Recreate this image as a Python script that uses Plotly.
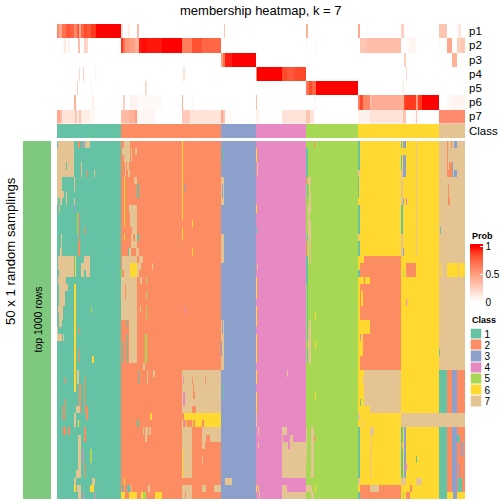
import plotly.graph_objects as go

W = 504
CLASS_COLORS = ["#66C2A5", "#FC8D62", "#8DA0CB", "#E78AC3", "#A6D854", "#FFD92F", "#E5C494"]
LEFT_COLOR = "#7FC97F"
P_LABELS = ["p1", "p2", "p3", "p4", "p5", "p6", "p7"]
CLASS_LABELS = ["1", "2", "3", "4", "5", "6", "7"]
N_COLS = 408
N_ROWS = 50
CLASS_EDGES = [0, 64, 164, 199, 249, 301, 382, 408]

# membership runs: start column, end column, probability
P1 = [(0,2,.6),(2,5,.45),(5,9,.7),(9,14,.8),(14,17,.75),(17,20,.6),(20,22,.8),(22,24,.45),(24,27,.75),(27,30,.85),(30,34,.8),(34,39,.9),(39,64,1),
      (64,66,.15),(71,73,.1),(80,82,.35),(167,168,.3),(249,251,.4),(301,303,.45),(344,347,.25),(382,390,.3),(400,402,.08),(402,404,.15)]
P2 = [(5,6,.05),(7,9,.12),(11,13,.08),(21,23,.35),(27,29,.25),(29,31,.2),
      (64,66,.9),(66,68,.7),(68,72,.55),(72,78,.5),(78,82,.4),(82,85,.96),(85,90,.98),(90,105,.96),(105,125,1),(125,135,.65),(135,145,.82),(145,164,.75),
      (249,250,.05),(258,259,.05),(303,310,.3),(310,344,.34),(350,353,.04),(353,359,.06),(382,383,.03),(390,395,.45),(400,404,.25),(404,408,.3)]
P3 = [(17,18,.04),(164,166,.5),(166,168,.7),(168,175,.95),(175,199,1),(347,349,.25),(395,400,.4),(404,405,.05)]
P4 = [(22,23,.2),(26,27,.25),(38,39,.08),(126,128,.15),(199,200,.6),(200,225,1),(225,230,.85),(230,237,.8),(237,249,.85),(349,350,.2)]
P5 = [(20,21,.25),(34,35,.06),(88,90,.2),(249,252,.7),(252,255,.85),(255,259,.75),(259,301,1),(346,347,.12)]
P6 = [(17,19,.4),(35,37,.1),(66,68,.25),(73,80,.07),(80,105,.03),(125,126,.4),(135,136,.05),(199,200,.35),(258,259,.07),
      (301,303,.65),(303,306,.85),(306,313,.6),(313,314,.3),(314,347,.42),(347,349,.85),(349,359,.9),(359,361,.5),(361,365,.9),(365,382,1),(390,395,.03),(395,408,.06)]
P7 = [(0,3,.45),(3,5,.35),(5,18,.15),(18,20,.3),(20,22,.12),(22,24,.3),(24,33,.1),(33,38,.04),
      (64,72,.35),(72,78,.4),(78,80,.5),(80,98,.05),(125,133,.28),(133,164,.15),(164,166,.45),(166,168,.3),(168,175,.03),
      (199,202,.08),(225,249,.15),(249,253,.3),(253,257,.15),(301,313,.08),(313,346,.15),(346,349,.3),(355,359,.03),(359,360,.3),(360,363,.03),(382,408,.58)]
P_RUNS = [P1, P2, P3, P4, P5, P6, P7]

# sampling patches: first row, last row, start column, end column, class
PATCHES_1 = [(0,0,1,17,7),(1,4,0,17,7),(3,3,9,10,1),(5,6,0,5,7),(5,6,17,18,7),(7,7,0,7,7),(7,8,9,10,7),(8,8,0,1,7),(8,8,3,5,7),
             (8,8,17,18,7),(9,9,2,3,7),(9,9,17,18,3),(13,14,4,5,7),(15,15,3,5,7),(0,0,21,23,2),(0,0,26,27,4),(0,0,28,33,7),
             (3,4,24,25,7),(4,4,29,30,2),(4,4,37,38,7),(10,15,21,22,2),(10,12,20,21,5),(12,12,27,28,2),(14,15,22,23,2),
             (16,17,1,17,7),(18,18,2,17,7),(16,18,18,19,6),(16,16,27,33,7),(17,17,24,33,7),(18,18,24,27,7),(18,18,29,33,7),
             (19,19,1,9,7),(20,20,2,11,7),(21,22,2,8,7),(23,23,1,6,7),(24,24,2,6,7),(25,25,2,5,7),(26,26,0,1,7),(27,27,0,5,7),(27,27,6,7,7),
             (20,34,17,19,6),(23,23,34,35,5),(26,26,21,22,2),(29,30,21,22,2),(30,30,35,37,6),(32,33,20,22,7),(33,37,27,28,2),(37,38,29,31,2),
             (33,33,8,9,2),(36,38,8,9,2),(37,38,5,6,2),(34,37,22,24,2),(37,37,19,23,7),(38,39,17,19,7),(39,39,21,22,6),
             (40,40,5,6,2),(40,40,7,9,2),(40,40,11,13,2),(41,46,21,24,7),(40,41,27,29,2),(43,44,33,35,5),(43,44,26,27,4),
             (46,46,19,24,7),(45,46,27,28,2),(47,47,35,38,7),(47,48,17,19,7),(48,48,17,19,6),(48,48,20,24,7),(48,48,33,37,6),(49,49,21,24,7),(49,49,26,27,4),(49,49,38,39,4)]
PATCHES_2 = [(0,0,67,73,7),(1,1,65,73,7),(1,1,74,75,7),(1,1,78,80,7),(2,2,67,73,7),(2,2,74,75,7),(3,3,68,69,7),(3,3,70,72,7),(4,4,68,69,7),(4,4,71,73,7),
             (5,11,67,68,6),(5,5,77,80,7),(6,7,80,82,1),(9,9,72,80,7),(10,11,73,80,7),(12,12,75,80,7),(13,13,67,68,6),(13,13,74,76,7),(13,13,78,80,7),(13,13,80,82,1),
             (14,14,74,80,7),(15,15,72,74,7),(15,15,79,82,7),(15,15,71,72,1),(16,16,65,80,7),(16,16,82,86,7),(17,17,65,73,7),(17,18,73,80,6),(17,17,80,84,7),
             (18,18,64,65,5),(18,18,67,73,7),(18,18,80,82,7),(19,24,64,80,7),(19,19,83,85,7),(19,19,89,90,5),(20,21,68,69,2),(21,21,89,90,5),(23,24,89,90,5),
             (23,23,83,84,7),(25,30,72,80,7),(25,25,70,71,1),(27,30,70,71,1),(27,30,88,90,5),(28,30,65,66,1),(31,31,86,88,7),(32,33,81,82,1),(32,32,96,98,7),(32,33,90,91,7),
             (0,10,125,126,6),(12,13,125,126,6),(11,11,135,136,6),(15,15,135,136,6),(6,6,128,129,3),(17,17,95,96,7),(23,23,127,128,4),
             (32,37,125,164,7),(33,33,135,136,2),(33,33,148,149,2),(33,33,126,127,4),(34,35,136,137,2),(35,36,126,128,4),(35,35,136,138,2),(37,37,135,139,2),
             (38,38,127,164,6),(38,38,125,127,2),(39,39,125,126,6),(39,39,126,128,4),(39,39,129,130,6),(39,39,135,136,6),(39,39,138,145,6),(39,39,147,164,6),
             (38,38,93,95,6),(39,39,80,82,1),(40,40,86,87,7),(40,40,88,91,7),(40,40,92,94,7),(41,41,88,90,7),
             (40,40,125,135,7),(40,40,145,164,7),(41,41,125,135,7),(41,41,145,149,7),(41,41,153,164,7),(42,42,125,135,7),(42,42,145,148,7),(43,46,126,135,7),(43,46,125,126,6),
             (44,44,145,146,7),(47,47,67,68,6),(48,48,125,135,7),(48,48,145,149,7),(48,48,157,164,7),(48,48,65,66,1),(48,48,70,73,1),(48,48,74,75,7),(48,48,91,93,7),
             (49,49,64,68,6),(49,49,72,80,6),(49,49,84,86,6),(49,49,86,89,5),(49,49,98,105,6),(49,49,125,128,7),(49,49,129,135,7)]
PATCHES_3 = [(5,8,164,167,7),(13,16,164,167,7),(25,31,164,167,7),(47,47,168,175,7),(6,7,165,166,3),(25,26,165,166,3),(28,29,164,165,3),(1,2,166,167,1),(34,35,166,167,1)]
PATCHES_4 = [(1,2,199,200,6),(9,9,199,200,6),(19,21,199,200,6),(23,25,199,200,6),(3,4,200,201,7),(12,12,200,201,1),(17,17,200,201,7),
             (27,30,199,200,6),(32,33,199,200,6),(35,37,199,200,6),(38,39,199,200,7),(40,40,201,202,7),(42,42,201,202,7),(48,48,199,200,6),(48,48,201,202,7),(49,49,202,203,7),
             (32,32,230,231,7),(40,40,225,230,7),(41,41,225,226,7),(41,41,233,236,7),(42,42,225,231,7),(42,42,233,249,7),(43,46,225,249,7),(48,48,225,230,7),(49,49,225,249,7)]
PATCHES_5 = [(0,0,257,258,2),(1,4,249,251,1),(5,5,249,250,2),(5,5,251,254,7),(6,7,252,253,7),(6,7,250,251,1),(7,9,252,254,7),(9,10,251,253,7),(11,13,251,254,7),(13,13,250,251,1),
             (14,15,249,250,2),(14,16,251,252,7),(14,16,253,254,7),(16,19,249,251,1),(20,25,250,251,1),(24,24,258,259,6),(25,25,252,254,7),
             (26,30,251,254,7),(26,27,250,251,1),(29,30,250,251,1),(28,28,258,259,6),(35,35,258,259,6),
             (40,46,254,257,7),(40,44,249,250,7),(41,41,257,258,2),(48,48,249,255,7),(48,48,258,259,6),(49,49,254,257,7)]
PATCHES_6 = [(0,3,301,303,1),(4,4,301,303,7),(5,7,301,302,1),(9,12,301,303,1),(13,13,302,303,7),(14,15,301,303,1),
             (0,0,344,345,1),(2,3,344,345,1),(0,0,346,349,3),(2,4,346,349,3),(4,15,344,346,7),(9,12,344,346,1),(8,8,346,347,3),(15,15,346,347,3),(8,8,349,350,4),(0,15,359,360,7),
             (16,16,307,344,2),(17,18,303,344,2),(17,18,349,359,2),(19,19,313,344,2),(19,19,307,308,2),(20,24,303,344,2),(25,26,313,344,2),(27,28,306,344,2),(29,29,306,344,2),(30,31,303,344,2),
             (18,18,301,303,1),(18,18,346,347,5),(22,22,349,350,4),(21,22,304,306,6),(27,27,303,304,4),
             (32,36,307,344,7),(33,33,306,307,7),(34,34,308,344,7),(36,36,308,344,7),(37,37,313,344,7),(36,36,303,304,1),(38,39,344,382,7),(38,38,301,303,7),(39,39,305,306,7),
             (40,46,301,303,1),(40,40,313,317,7),(41,42,314,315,7),(43,46,313,314,7),(40,46,344,346,1),(40,46,347,349,3),(42,42,345,346,7),(45,45,348,350,4),(44,44,359,360,1),
             (47,47,301,303,7),(47,47,344,349,7),(47,47,359,365,7),(48,48,303,313,2),(48,48,313,322,7),(48,48,322,344,2),(48,48,353,355,2),(49,49,301,303,1),(49,49,303,344,2),(49,49,349,353,2),(49,49,346,347,5)]
PATCHES_7 = [(0,4,390,391,2),(0,0,394,395,2),(0,0,397,400,3),(3,4,392,395,2),(3,4,395,396,3),(4,4,390,392,2),(4,4,397,400,3),(6,8,391,392,2),(8,8,392,393,2),(12,12,383,384,1),
             (17,18,384,385,6),(17,18,390,401,6),(17,18,402,408,6),(29,29,382,383,1),
             (32,47,382,390,1),(32,47,390,395,2),(32,47,395,400,3),(32,47,400,408,2),(38,39,382,408,7),(41,41,400,403,1),(42,43,400,401,2),(42,43,403,404,3),(42,43,405,406,3),
             (45,47,402,403,3),(47,48,401,405,1),(48,48,390,395,2),(48,48,395,400,3),(48,48,400,401,2),(48,48,405,408,2),(48,48,382,390,1),
             (49,49,382,390,1),(49,49,390,396,6),(49,49,396,400,3),(49,49,400,408,6)]
ALL_PATCHES = [PATCHES_1, PATCHES_2, PATCHES_3, PATCHES_4, PATCHES_5, PATCHES_6, PATCHES_7]

# grids built from the lists above
class_row = []
for k in range(7):
    class_row += [k + 1] * (CLASS_EDGES[k + 1] - CLASS_EDGES[k])
main_z = [list(class_row) for _ in range(N_ROWS)]
for group in ALL_PATCHES:
    for r0, r1, c0, c1, cls in group:
        for r in range(r0, r1 + 1):
            main_z[r][c0:c1] = [cls] * (c1 - c0)
prob_z = []
for runs in P_RUNS:
    row = [0.0] * N_COLS
    for c0, c1, v in runs:
        row[c0:c1] = [v] * (c1 - c0)
    prob_z.append(row)

# layout in pixels
def xd(a, b):
    return [a / W, b / W]
def yd(top, bottom):
    return [1 - bottom / W, 1 - top / W]

ZMIN, ZMAX = -0.035, 1.05
def frac(v):
    return (v - ZMIN) / (ZMAX - ZMIN)
ramp = [(0, "#FFFFFF"), (.1, "#FFEDE6"), (.25, "#FFCFBF"), (.5, "#FF9E81"), (.75, "#FF6645"), (.9, "#FF3A1E"), (1, "#FF0000")]
prob_scale = [[0, "#FFFFFF"]] + [[frac(v), c] for v, c in ramp] + [[1, "#FF0000"]]

def stepped():
    out = []
    for i, c in enumerate(CLASS_COLORS):
        out += [[i / 7, c], [(i + 1) / 7, c]]
    return out

fig = go.Figure()
FONT = "Liberation Sans"
TXT = "#000000"

def axes(n, xr, yr):
    name = "" if n == 1 else str(n)
    fig.update_layout(**{
        "xaxis" + name: dict(domain=xr, visible=False, anchor="y" + name, fixedrange=True),
        "yaxis" + name: dict(domain=yr, visible=False, anchor="x" + name, autorange="reversed", fixedrange=True),
    })
    return "x" + name, "y" + name

# membership rows
xa, ya = axes(1, xd(57, 465), yd(24, 123.5))
fig.add_trace(go.Heatmap(z=prob_z, y=P_LABELS, xaxis=xa, yaxis=ya, colorscale=prob_scale, zmin=ZMIN, zmax=ZMAX, hoverinfo="skip",
                         colorbar=dict(x=470 / W, xanchor="left", xpad=0, ypad=0, y=1 - 244 / W, yanchor="top", len=60 / W, lenmode="fraction",
                                       thickness=12.5, thicknessmode="pixels", outlinewidth=0, borderwidth=0,
                                       tickvals=[0, .5, 1], ticktext=["0", "0.5", "1"], ticks="inside", ticklen=3, tickcolor="#FFFFFF", tickwidth=1,
                                       tickfont=dict(family=FONT, size=10, color=TXT))))
fig.update_layout(yaxis=dict(visible=True, side="right", showgrid=False, zeroline=False, showline=False, ticks="", ticklabelstandoff=3,
                             tickfont=dict(family=FONT, size=11.5, color=TXT), tickmode="array", tickvals=P_LABELS, ticktext=P_LABELS))

# class bar
xa, ya = axes(2, xd(57, 465), yd(124, 138))
fig.add_trace(go.Heatmap(z=[class_row], y=["Class"], xaxis=xa, yaxis=ya, colorscale=stepped(), zmin=.5, zmax=7.5, showscale=False, hoverinfo="skip"))
fig.update_layout(yaxis2=dict(visible=True, side="right", showgrid=False, zeroline=False, showline=False, ticks="", ticklabelstandoff=3,
                              tickfont=dict(family=FONT, size=11.5, color=TXT), tickmode="array", tickvals=["Class"], ticktext=["Class"]))

# samplings
xa, ya = axes(3, xd(57, 465), yd(141, 499))
fig.add_trace(go.Heatmap(z=main_z, xaxis=xa, yaxis=ya, colorscale=stepped(), zmin=.5, zmax=7.5, showscale=False, hoverinfo="skip"))

# left bar
xa, ya = axes(4, xd(23, 51), yd(141, 499))
fig.add_trace(go.Heatmap(z=[[1]], xaxis=xa, yaxis=ya, colorscale=[[0, LEFT_COLOR], [1, LEFT_COLOR]], showscale=False, hoverinfo="skip"))

# class legend
xa, ya = axes(5, xd(470.5, 481.5), yd(328.5, 407))
fig.add_trace(go.Heatmap(z=[[i + 1] for i in range(7)], y=CLASS_LABELS, xaxis=xa, yaxis=ya, colorscale=stepped(), zmin=.5, zmax=7.5,
                         showscale=False, hoverinfo="skip", ygap=1))
fig.update_layout(yaxis5=dict(visible=True, side="right", showgrid=False, zeroline=False, showline=False, ticks="", ticklabelstandoff=2,
                              tickfont=dict(family=FONT, size=10, color=TXT), tickmode="array", tickvals=CLASS_LABELS, ticktext=CLASS_LABELS))

def label(px, py, s, size, bold=False, angle=0, anchor="left"):
    fig.add_annotation(x=px / W, y=1 - py / W, xref="paper", yref="paper", text="<b>%s</b>" % s if bold else s, showarrow=False,
                       xanchor=anchor, yanchor="middle", textangle=angle, font=dict(family=FONT, size=size, color=TXT))

label(261, 10, "membership heatmap, k = 7", 13, anchor="center")
label(10.5, 251.5, "50 x 1 random samplings", 13.2, angle=-90, anchor="center")
label(37.5, 320, "top 1000 rows", 10.5, angle=-90, anchor="center")
label(470, 236, "Prob", 9, bold=True)
label(470, 319.5, "Class", 9, bold=True)

fig.update_layout(width=W, height=W, margin=dict(l=0, r=0, t=0, b=0, pad=0), autosize=False, plot_bgcolor="#FFFFFF", paper_bgcolor="#FFFFFF", showlegend=False)
fig.write_html("out.html", config=dict(displayModeBar=False), post_script="document.body.style.margin='0';")
